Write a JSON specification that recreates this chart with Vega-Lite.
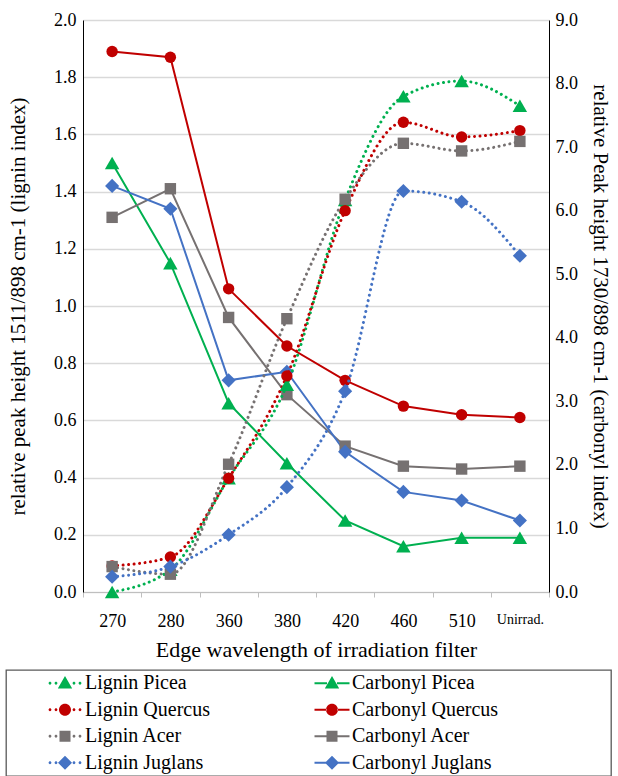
{
  "$schema": "https://vega.github.io/schema/vega-lite/v6.json",
  "padding": {"left": 5, "top": 11, "right": 0, "bottom": 0},
  "spacing": 9,
  "config": {
    "font": "Liberation Serif",
    "view": {"stroke": null},
    "axis": {"labelFont": "Liberation Serif", "titleFont": "Liberation Serif"},
    "text": {"font": "Liberation Serif"}
  },
  "datasets": {
    "carbonyl": [
      {"species": "Picea", "filter": "270", "value": 1.50},
      {"species": "Picea", "filter": "280", "value": 1.15},
      {"species": "Picea", "filter": "360", "value": 0.66},
      {"species": "Picea", "filter": "380", "value": 0.45},
      {"species": "Picea", "filter": "420", "value": 0.25},
      {"species": "Picea", "filter": "460", "value": 0.16},
      {"species": "Picea", "filter": "510", "value": 0.19},
      {"species": "Picea", "filter": "Unirrad.", "value": 0.19},
      {"species": "Quercus", "filter": "270", "value": 1.89},
      {"species": "Quercus", "filter": "280", "value": 1.87},
      {"species": "Quercus", "filter": "360", "value": 1.06},
      {"species": "Quercus", "filter": "380", "value": 0.86},
      {"species": "Quercus", "filter": "420", "value": 0.74},
      {"species": "Quercus", "filter": "460", "value": 0.65},
      {"species": "Quercus", "filter": "510", "value": 0.62},
      {"species": "Quercus", "filter": "Unirrad.", "value": 0.61},
      {"species": "Acer", "filter": "270", "value": 1.31},
      {"species": "Acer", "filter": "280", "value": 1.41},
      {"species": "Acer", "filter": "360", "value": 0.96},
      {"species": "Acer", "filter": "380", "value": 0.69},
      {"species": "Acer", "filter": "420", "value": 0.51},
      {"species": "Acer", "filter": "460", "value": 0.44},
      {"species": "Acer", "filter": "510", "value": 0.43},
      {"species": "Acer", "filter": "Unirrad.", "value": 0.44},
      {"species": "Juglans", "filter": "270", "value": 1.42},
      {"species": "Juglans", "filter": "280", "value": 1.34},
      {"species": "Juglans", "filter": "360", "value": 0.74},
      {"species": "Juglans", "filter": "380", "value": 0.77},
      {"species": "Juglans", "filter": "420", "value": 0.49},
      {"species": "Juglans", "filter": "460", "value": 0.35},
      {"species": "Juglans", "filter": "510", "value": 0.32},
      {"species": "Juglans", "filter": "Unirrad.", "value": 0.25}
    ],
    "lignin": [
      {"species": "Picea", "filter": "270", "value": 0.0},
      {"species": "Picea", "filter": "280", "value": 0.35},
      {"species": "Picea", "filter": "360", "value": 1.79},
      {"species": "Picea", "filter": "380", "value": 3.26},
      {"species": "Picea", "filter": "420", "value": 6.17},
      {"species": "Picea", "filter": "460", "value": 7.80},
      {"species": "Picea", "filter": "510", "value": 8.04},
      {"species": "Picea", "filter": "Unirrad.", "value": 7.65},
      {"species": "Quercus", "filter": "270", "value": 0.41},
      {"species": "Quercus", "filter": "280", "value": 0.55},
      {"species": "Quercus", "filter": "360", "value": 1.79},
      {"species": "Quercus", "filter": "380", "value": 3.40},
      {"species": "Quercus", "filter": "420", "value": 6.00},
      {"species": "Quercus", "filter": "460", "value": 7.39},
      {"species": "Quercus", "filter": "510", "value": 7.16},
      {"species": "Quercus", "filter": "Unirrad.", "value": 7.26},
      {"species": "Acer", "filter": "270", "value": 0.40},
      {"species": "Acer", "filter": "280", "value": 0.28},
      {"species": "Acer", "filter": "360", "value": 2.01},
      {"species": "Acer", "filter": "380", "value": 4.30},
      {"species": "Acer", "filter": "420", "value": 6.18},
      {"species": "Acer", "filter": "460", "value": 7.06},
      {"species": "Acer", "filter": "510", "value": 6.94},
      {"species": "Acer", "filter": "Unirrad.", "value": 7.09},
      {"species": "Juglans", "filter": "270", "value": 0.24},
      {"species": "Juglans", "filter": "280", "value": 0.40},
      {"species": "Juglans", "filter": "360", "value": 0.90},
      {"species": "Juglans", "filter": "380", "value": 1.65},
      {"species": "Juglans", "filter": "420", "value": 3.16},
      {"species": "Juglans", "filter": "460", "value": 6.31},
      {"species": "Juglans", "filter": "510", "value": 6.14},
      {"species": "Juglans", "filter": "Unirrad.", "value": 5.29}
    ],
    "legend": [
      {"series": "Lignin Picea", "kind": "Lignin", "species": "Picea"},
      {"series": "Carbonyl Picea", "kind": "Carbonyl", "species": "Picea"},
      {"series": "Lignin Quercus", "kind": "Lignin", "species": "Quercus"},
      {"series": "Carbonyl Quercus", "kind": "Carbonyl", "species": "Quercus"},
      {"series": "Lignin Acer", "kind": "Lignin", "species": "Acer"},
      {"series": "Carbonyl Acer", "kind": "Carbonyl", "species": "Acer"},
      {"series": "Lignin Juglans", "kind": "Lignin", "species": "Juglans"},
      {"series": "Carbonyl Juglans", "kind": "Carbonyl", "species": "Juglans"}
    ]
  },
  "resolve": {"scale": {"shape": "independent", "size": "independent"}},
  "vconcat": [
    {
      "spacing": 0,
      "hconcat": [
        {
          "width": 1,
          "height": 1,
          "data": {"values": [{"blank": ""}]},
          "mark": {"type": "text", "opacity": 0},
          "encoding": {"text": {"field": "blank", "type": "nominal"}}
        },
        {
          "width": 466,
          "height": 572,
          "view": {"stroke": null},
          "encoding": {
            "color": {
              "field": "species",
              "type": "nominal",
              "scale": {"domain": ["Picea", "Quercus", "Acer", "Juglans"], "range": ["#00B050", "#C00000", "#767171", "#4472C4"]},
              "legend": null
            }
          },
          "layer": [
            {
              "data": {"values": [{}]},
              "mark": {"type": "rule", "color": "#898989", "strokeWidth": 1.3},
              "encoding": {"y": {"datum": 2, "type": "quantitative", "scale": {"domain": [0, 2], "nice": false}, "axis": null}}
            },
            {
              "data": {"name": "carbonyl"},
              "encoding": {
                "x": {
                  "field": "filter",
                  "type": "ordinal",
                  "sort": ["270", "280", "360", "380", "420", "460", "510", "Unirrad."],
                  "bandPosition": 0.5,
                  "scale": {"type": "band", "paddingInner": 0, "paddingOuter": 0},
                  "axis": {
                    "title": "Edge wavelength of irradiation filter",
                    "titleFontSize": 22,
                    "titleFontWeight": "normal",
                    "titleColor": "#000000",
                    "titlePadding": 9,
                    "labelFontSize": {"condition": {"test": "datum.value === 'Unirrad.'", "value": 14}, "value": 18},
                    "labelColor": "#000000",
                    "labelPadding": 15,
                    "labelAngle": 0,
                    "tickBand": "extent",
                    "tickColor": "#bfbfbf",
                    "tickSize": 5,
                    "domainColor": "#bfbfbf",
                    "grid": false
                  }
                },
                "y": {
                  "field": "value",
                  "type": "quantitative",
                  "scale": {"domain": [0, 2], "nice": false},
                  "axis": {
                    "orient": "left",
                    "title": "relative peak height 1511/898 cm-1 (lignin index)",
                    "titleFontSize": 21,
                    "titleFontWeight": "normal",
                    "titleColor": "#000000",
                    "titlePadding": 25,
                    "values": [0, 0.2, 0.4, 0.6, 0.8, 1.0, 1.2, 1.4, 1.6, 1.8, 2.0],
                    "format": ".1f",
                    "labelFontSize": 18,
                    "labelColor": "#000000",
                    "labelPadding": 7,
                    "ticks": false,
                    "domainColor": "#000000",
                    "grid": true,
                    "gridColor": "#d9d9d9",
                    "gridWidth": 1.3
                  }
                }
              },
              "layer": [
                {"mark": {"type": "line", "strokeWidth": 2}},
                {
                  "mark": {"type": "point", "filled": true, "opacity": 1, "strokeWidth": 0},
                  "encoding": {
                    "shape": {"field": "species", "type": "nominal", "scale": {"domain": ["Picea", "Quercus", "Acer", "Juglans"], "range": ["triangle-up", "circle", "square", "diamond"]}, "legend": null},
                    "size": {"field": "species", "type": "ordinal", "scale": {"type": "ordinal", "domain": ["Picea", "Quercus", "Acer", "Juglans"], "range": [210, 130, 130, 200]}, "legend": null}
                  }
                }
              ]
            },
            {
              "data": {"name": "lignin"},
              "encoding": {
                "x": {
                  "field": "filter",
                  "type": "ordinal",
                  "sort": ["270", "280", "360", "380", "420", "460", "510", "Unirrad."],
                  "bandPosition": 0.5
                },
                "y": {
                  "field": "value",
                  "type": "quantitative",
                  "scale": {"domain": [0, 9], "nice": false},
                  "axis": {
                    "orient": "right",
                    "title": "relative Peak height 1730/898 cm-1 (carbonyl index)",
                    "titleFontSize": 21,
                    "titleFontWeight": "normal",
                    "titleColor": "#000000",
                    "titlePadding": 12,
                    "values": [0, 1, 2, 3, 4, 5, 6, 7, 8, 9],
                    "format": ".1f",
                    "labelFontSize": 18,
                    "labelColor": "#000000",
                    "labelPadding": 6,
                    "ticks": false,
                    "domainColor": "#000000",
                    "grid": false
                  }
                }
              },
              "layer": [
                {"mark": {"type": "line", "strokeWidth": 3, "strokeDash": [0.01, 5.5], "strokeCap": "round", "interpolate": "monotone"}},
                {
                  "mark": {"type": "point", "filled": true, "opacity": 1, "strokeWidth": 0},
                  "encoding": {
                    "shape": {"field": "species", "type": "nominal", "scale": {"domain": ["Picea", "Quercus", "Acer", "Juglans"], "range": ["triangle-up", "circle", "square", "diamond"]}, "legend": null},
                    "size": {"field": "species", "type": "ordinal", "scale": {"type": "ordinal", "domain": ["Picea", "Quercus", "Acer", "Juglans"], "range": [210, 130, 130, 200]}, "legend": null}
                  }
                }
              ]
            }
          ],
          "resolve": {"scale": {"y": "independent"}}
        }
      ]
    },
    {
      "width": 605,
      "height": 106,
      "view": {"stroke": "#595959", "strokeWidth": 1.3},
      "data": {"name": "legend"},
      "encoding": {
        "x": {"field": "kind", "type": "nominal", "scale": {"type": "point", "domain": ["Lignin", "Carbonyl"], "range": [59, 326], "padding": 0}, "axis": null},
        "y": {"field": "species", "type": "nominal", "scale": {"type": "point", "domain": ["Picea", "Quercus", "Acer", "Juglans"], "padding": 0.5}, "axis": null},
        "color": {
          "field": "species",
          "type": "nominal",
          "scale": {"domain": ["Picea", "Quercus", "Acer", "Juglans"], "range": ["#00B050", "#C00000", "#767171", "#4472C4"]},
          "legend": null
        }
      },
      "layer": [
        {
          "mark": {"type": "point", "filled": true, "opacity": 1, "strokeWidth": 0, "size": 400},
          "encoding": {
            "shape": {
              "field": "series",
              "type": "nominal",
              "scale": {
                "domain": ["Lignin Picea", "Carbonyl Picea", "Lignin Quercus", "Carbonyl Quercus", "Lignin Acer", "Carbonyl Acer", "Lignin Juglans", "Carbonyl Juglans"],
                "range": [
                  "M0,-0.72L0.72,0.52L-0.72,0.52ZM-1.64,0a0.14,0.14 0 1,0 0.28,0a0.14,0.14 0 1,0 -0.28,0ZM-1.04,0a0.14,0.14 0 1,0 0.28,0a0.14,0.14 0 1,0 -0.28,0ZM0.76,0a0.14,0.14 0 1,0 0.28,0a0.14,0.14 0 1,0 -0.28,0ZM1.36,0a0.14,0.14 0 1,0 0.28,0a0.14,0.14 0 1,0 -0.28,0Z",
                  "M0,-0.72L0.72,0.52L-0.72,0.52ZM-1.75,-0.1H-0.5V0.1H-1.75ZM0.5,-0.1H1.75V0.1H0.5Z",
                  "M-0.6,0a0.6,0.6 0 1,0 1.2,0a0.6,0.6 0 1,0 -1.2,0ZM-1.64,0a0.14,0.14 0 1,0 0.28,0a0.14,0.14 0 1,0 -0.28,0ZM-1.04,0a0.14,0.14 0 1,0 0.28,0a0.14,0.14 0 1,0 -0.28,0ZM0.76,0a0.14,0.14 0 1,0 0.28,0a0.14,0.14 0 1,0 -0.28,0ZM1.36,0a0.14,0.14 0 1,0 0.28,0a0.14,0.14 0 1,0 -0.28,0Z",
                  "M-0.6,0a0.6,0.6 0 1,0 1.2,0a0.6,0.6 0 1,0 -1.2,0ZM-1.75,-0.1H-0.55V0.1H-1.75ZM0.55,-0.1H1.75V0.1H0.55Z",
                  "M-0.55,-0.55H0.55V0.55H-0.55ZM-1.64,0a0.14,0.14 0 1,0 0.28,0a0.14,0.14 0 1,0 -0.28,0ZM-1.04,0a0.14,0.14 0 1,0 0.28,0a0.14,0.14 0 1,0 -0.28,0ZM0.76,0a0.14,0.14 0 1,0 0.28,0a0.14,0.14 0 1,0 -0.28,0ZM1.36,0a0.14,0.14 0 1,0 0.28,0a0.14,0.14 0 1,0 -0.28,0Z",
                  "M-0.55,-0.55H0.55V0.55H-0.55ZM-1.75,-0.1H-0.55V0.1H-1.75ZM0.55,-0.1H1.75V0.1H0.55Z",
                  "M0,-0.7L0.7,0L0,0.7L-0.7,0ZM-1.64,0a0.14,0.14 0 1,0 0.28,0a0.14,0.14 0 1,0 -0.28,0ZM-1.04,0a0.14,0.14 0 1,0 0.28,0a0.14,0.14 0 1,0 -0.28,0ZM0.76,0a0.14,0.14 0 1,0 0.28,0a0.14,0.14 0 1,0 -0.28,0ZM1.36,0a0.14,0.14 0 1,0 0.28,0a0.14,0.14 0 1,0 -0.28,0Z",
                  "M0,-0.7L0.7,0L0,0.7L-0.7,0ZM-1.75,-0.1H-0.6V0.1H-1.75ZM0.6,-0.1H1.75V0.1H0.6Z"
                ]
              },
              "legend": null
            }
          }
        },
        {
          "mark": {"type": "text", "align": "left", "baseline": "middle", "dx": 20, "fontSize": 20, "font": "Liberation Serif"},
          "encoding": {"text": {"field": "series", "type": "nominal"}, "color": {"value": "#000000"}}
        }
      ]
    }
  ]
}
